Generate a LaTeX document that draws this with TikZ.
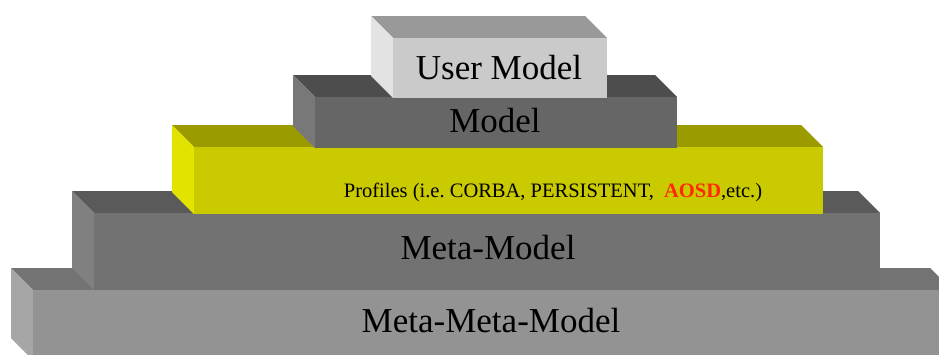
\documentclass[tikz,border=0pt]{standalone}
\usepackage{fontspec}
\setmainfont{Liberation Serif}
\frenchspacing

% face colours: front / top / left side
\definecolor{mmFront}{HTML}{939393}
\definecolor{mmTop}{HTML}{737373}
\definecolor{mmSide}{HTML}{A6A6A6}
\definecolor{metaFront}{HTML}{727272}
\definecolor{metaTop}{HTML}{5A5A5A}
\definecolor{metaSide}{HTML}{808080}
\definecolor{profFront}{HTML}{CACA00}
\definecolor{profTop}{HTML}{9B9B00}
\definecolor{profSide}{HTML}{E3E300}
\definecolor{modFront}{HTML}{666666}
\definecolor{modTop}{HTML}{4D4D4D}
\definecolor{modSide}{HTML}{787878}
\definecolor{userFront}{HTML}{CACACA}
\definecolor{userTop}{HTML}{999999}
\definecolor{userSide}{HTML}{E3E3E3}
\definecolor{aosdRed}{HTML}{FF2A00}

\tikzset{
  biglabel/.style={font=\fontsize{35}{40}\selectfont, text=black, inner sep=0pt},
  smalllabel/.style={font=\fontsize{20.5}{24}\selectfont, text=black, inner sep=0pt},
}

% \slab{x1}{y1}{x2}{y2}{front}{top}{side}: a block seen in oblique view,
% front face from (x1,y1) to (x2,y2), depth going up and to the left
\newcommand\slab[7]{%
  \fill[#6] (#1,#2) -- ++(-22,-22) -- (#3-22,#2-22) -- (#3,#2) -- cycle;
  \fill[#7] (#1,#2) -- ++(-22,-22) -- (#1-22,#4-22) -- (#1,#4) -- cycle;
  \fill[#5] (#1,#2) rectangle (#3,#4);
}

\begin{document}
\begin{tikzpicture}[x=1pt,y=-1pt]
  \useasboundingbox (0,0) rectangle (939,354);
  \clip (0,0) rectangle (939,354);
  \fill[white] (0,0) rectangle (939,354);

  % blocks, from the base upwards
  \slab{33}{290}{952}{360}{mmFront}{mmTop}{mmSide}
  \slab{94}{213}{880}{290}{metaFront}{metaTop}{metaSide}
  \slab{194}{147}{823}{214}{profFront}{profTop}{profSide}
  \slab{315}{97}{677}{148}{modFront}{modTop}{modSide}
  \slab{393}{38}{607}{98}{userFront}{userTop}{userSide}

  % labels
  \node[biglabel] (metameta) at (491,321) {Meta-Meta-Model};
  \node[biglabel] (meta) at (488,248) {Meta-Model};
  \node[smalllabel] (profiles) at (553,192)
    {Profiles (i.e. CORBA, PERSISTENT,\ \ \textcolor{aosdRed}{\textbf{AOSD}},etc.)};
  \node[biglabel] (model) at (495,121) {Model};
  \node[biglabel] (user) at (499,68) {User Model};
\end{tikzpicture}
\end{document}
